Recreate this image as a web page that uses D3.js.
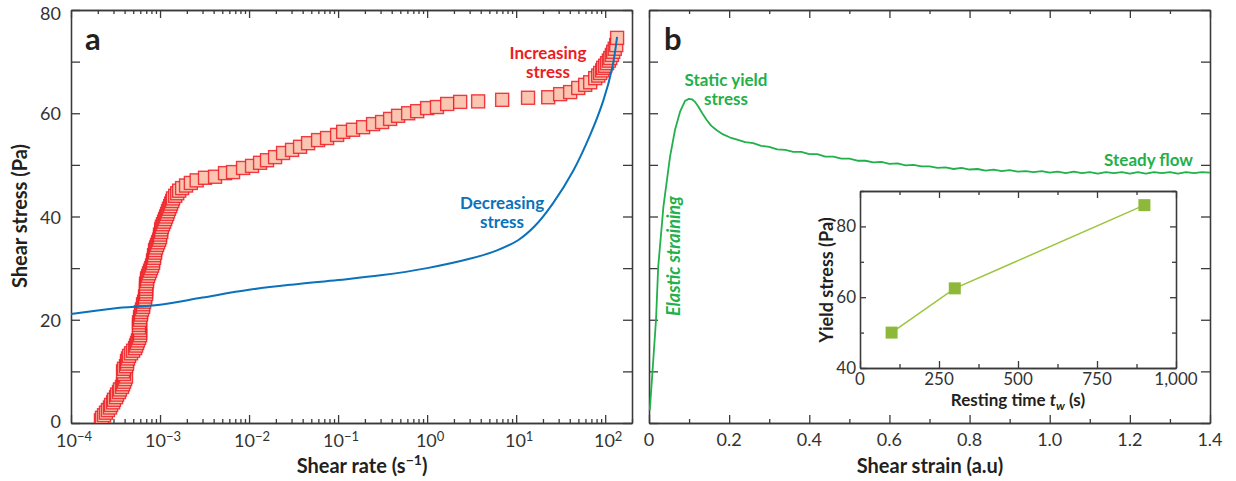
<!DOCTYPE html>
<html>
<head>
<meta charset="utf-8">
<script src="https://cdn.jsdelivr.net/npm/d3@7"></script>
<style>
body { margin: 0; background: #fff; }
text { font-family: Lato, "Open Sans", sans-serif; }
</style>
</head>
<body>
<script>
// ---- panel a : increasing stress (squares) ----
const upRate = [
  2.17e-4, 2.23e-4, 2.35e-4, 2.47e-4, 2.60e-4, 2.74e-4, 2.82e-4, 2.97e-4, 3.04e-4, 3.21e-4,
  3.29e-4, 3.46e-4, 3.55e-4, 3.74e-4, 3.84e-4, 3.94e-4, 4.05e-4, 4.15e-4, 3.94e-4, 3.84e-4,
  3.94e-4, 4.15e-4, 4.26e-4, 4.26e-4, 4.37e-4, 4.49e-4, 4.73e-4, 4.98e-4, 5.24e-4, 5.38e-4,
  5.52e-4, 5.66e-4, 5.81e-4, 5.97e-4, 5.97e-4, 5.97e-4, 5.81e-4, 5.81e-4, 5.81e-4, 5.97e-4,
  5.97e-4, 6.12e-4, 6.12e-4, 6.28e-4, 6.45e-4, 6.45e-4, 6.62e-4, 6.79e-4, 6.79e-4, 6.97e-4,
  6.97e-4, 6.97e-4, 6.97e-4, 6.97e-4, 7.15e-4, 7.15e-4, 7.34e-4, 7.53e-4, 7.73e-4, 7.93e-4,
  8.14e-4, 8.35e-4, 8.35e-4, 8.57e-4, 8.57e-4, 8.80e-4, 8.80e-4, 9.03e-4, 9.26e-4, 9.51e-4,
  9.76e-4, 1.00e-3, 1.00e-3, 1.03e-3, 1.03e-3, 1.05e-3, 1.08e-3, 1.11e-3, 1.14e-3, 1.17e-3,
  1.20e-3, 1.23e-3, 1.26e-3, 1.30e-3, 1.33e-3, 1.37e-3, 1.40e-3, 1.48e-3, 1.56e-3, 1.64e-3,
  1.77e-3, 1.96e-3, 2.22e-3, 2.58e-3, 3.20e-3, 4.15e-3, 5.37e-3, 6.61e-3, 8.56e-3, 1.08e-2,
  1.33e-2, 1.59e-2, 1.96e-2, 2.41e-2, 3.04e-2, 3.74e-2, 4.60e-2, 5.96e-2, 7.52e-2, 9.75e-2,
  0.114, 0.147, 0.191, 0.247, 0.312, 0.384, 0.472, 0.612, 0.773, 1.00,
  1.29, 1.68, 2.35, 3.74, 6.96, 13.6, 22.9, 31.2, 40.4, 49.8,
  59.6, 67.8, 77.2, 83.5, 87.9, 92.6, 95.0, 100, 105, 110,
  114, 119, 123, 128, 133, 136
];
const upStress = [
  0.5, 1.0, 1.5, 2.0, 2.5, 3.0, 3.5, 4.0, 4.5, 5.0,
  5.5, 6.0, 6.5, 7.0, 7.5, 8.0, 8.5, 9.0, 9.5, 10.0,
  10.5, 11.0, 11.5, 12.0, 12.5, 13.0, 13.5, 14.0, 14.5, 15.0,
  15.5, 16.0, 16.5, 17.0, 17.5, 18.0, 18.5, 19.0, 19.5, 20.0,
  20.5, 21.0, 21.5, 22.0, 22.5, 23.0, 23.5, 24.0, 24.5, 25.0,
  25.5, 26.0, 26.5, 27.0, 27.5, 28.0, 28.5, 29.0, 29.5, 30.0,
  30.5, 31.0, 31.5, 32.0, 32.5, 33.0, 33.5, 34.0, 34.5, 35.0,
  35.5, 36.0, 36.5, 37.0, 37.5, 38.0, 38.5, 39.0, 39.5, 40.0,
  40.5, 41.0, 41.5, 42.0, 42.5, 43.0, 43.5, 44.0, 44.5, 45.0,
  45.5, 46.0, 46.5, 47.0, 47.5, 47.7, 48.4, 48.6, 49.4, 49.8,
  50.4, 50.9, 51.5, 52.3, 52.9, 53.5, 54.2, 54.8, 55.2, 55.8,
  56.4, 56.8, 57.3, 57.9, 58.3, 58.9, 59.5, 60.0, 60.4, 61.0,
  61.2, 61.8, 62.2, 62.3, 62.6, 63.0, 63.1, 63.7, 64.1, 64.9,
  65.5, 66.0, 66.8, 67.3, 67.8, 68.3, 68.8, 69.2, 69.7, 70.2,
  70.7, 71.3, 71.9, 72.5, 73.2, 74.6
];

// ---- panel a : decreasing stress (line) ----
const downRate = [1e-4, 3e-4, 1e-3, 3e-3, 1e-2, 3e-2, 0.1, 0.3, 1, 3, 6, 10.5, 16.3, 26, 43.6, 67.8, 95, 120, 136];
const downStress = [21.1, 22.2, 22.9, 24.3, 25.8, 26.8, 27.7, 28.6, 30.0, 31.8, 33.4, 35.4, 38.2, 42.6, 48.8, 55.8, 62.4, 68.8, 74.8];

// ---- panel b : stress vs strain ----
const strain = [
  0.002, 0.009, 0.0175, 0.023, 0.036, 0.0525, 0.065, 0.0775, 0.09, 0.1,
  0.107, 0.115, 0.123, 0.133, 0.144, 0.155, 0.169, 0.185, 0.2025, 0.22,
  0.24, 0.26, 0.28, 0.30, 0.32, 0.34, 0.36, 0.38, 0.40, 0.42,
  0.44, 0.46, 0.48, 0.50, 0.52, 0.54, 0.56, 0.58, 0.60, 0.62,
  0.64, 0.66, 0.68, 0.70, 0.72, 0.74, 0.76, 0.78, 0.80, 0.82,
  0.84, 0.86, 0.88, 0.90, 0.92, 0.94, 0.96, 0.98, 1.00, 1.02,
  1.04, 1.06, 1.08, 1.10, 1.12, 1.14, 1.16, 1.18, 1.20, 1.22,
  1.24, 1.26, 1.28, 1.30, 1.32, 1.34, 1.36, 1.38, 1.40
];
const strainStress = [
  2.5, 10.3, 20.0, 30.3, 41.9, 51.6, 56.8, 60.3, 62.4, 62.8,
  62.7, 62.2, 61.3, 60.0, 58.7, 57.6, 56.7, 55.9, 55.3, 54.9,
  54.4, 54.2, 53.7, 53.5, 53.0, 52.9, 52.5, 52.5, 52.1, 52.1,
  51.6, 51.6, 51.2, 51.2, 50.8, 50.8, 50.5, 50.6, 50.2, 50.3,
  49.9, 50.0, 49.7, 49.7, 49.4, 49.5, 49.2, 49.4, 49.1, 49.2,
  48.9, 49.1, 48.8, 49.0, 48.7, 48.8, 48.6, 48.8, 48.5, 48.7,
  48.4, 48.7, 48.4, 48.6, 48.3, 48.6, 48.4, 48.6, 48.3, 48.6,
  48.3, 48.6, 48.4, 48.6, 48.3, 48.6, 48.4, 48.6, 48.5
];

// ---- inset : yield stress vs resting time ----
const restTime = [100, 300, 900];
const yieldStress = [50, 62.5, 86];

// ---- tick labels ----
const rateDecades = [1e-4, 1e-3, 1e-2, 1e-1, 1, 10, 100];
const rateExp = ["\u22124", "\u22123", "\u22122", "\u22121", "0", "1", "2"];
const stressLabels = [0, 20, 40, 60, 80];
const strainLabels = [0, 0.2, 0.4, 0.6, 0.8, 1.0, 1.2, 1.4];
const restLabels = [0, 250, 500, 750, 1000];
const yieldLabels = [40, 60, 80];

const axisColor = '#3a3a3a';
const labelColor = '#333';
const titleColor = '#231f20';
const red = '#ed1c24';
const blue = '#0a72ba';
const green = '#22b04b';
const olive = '#8db83a';

var svg = d3.select('body').append('svg')
  .attr('width', 1236)
  .attr('height', 481)
  .style('background-color', 'white');

var xA = d3.scaleLog().domain([1e-4, 200]).range([71, 632]);
var yA = d3.scaleLinear().domain([0, 80]).range([423, 10]);
var xB = d3.scaleLinear().domain([0, 1.4]).range([649, 1210]);
var yB = d3.scaleLinear().domain([0, 80]).range([423, 10]);
var xI = d3.scaleLinear().domain([0, 1000]).range([860, 1176]);
var yI = d3.scaleLinear().domain([40, 90]).range([368, 191]);

function styleAxis(g) {
  g.selectAll('path, line').attr('stroke', axisColor).attr('stroke-width', 1.3);
  g.selectAll('text').remove();
}

function addAxis(axis, tx, ty) {
  svg.append('g')
    .attr('transform', `translate(${tx},${ty})`)
    .call(axis.tickSizeOuter(0).tickFormat(''))
    .call(styleAxis);
}

// frame: major+minor ticks on four sides
function drawFrame(x, y, xMajor, xMinor, yMajor, yMinor, sz) {
  const [x0, x1] = x.range();
  const [y1, y0] = y.range();
  addAxis(d3.axisBottom(x).tickValues(xMajor).tickSize(-sz.xMaj), 0, y1);
  addAxis(d3.axisBottom(x).tickValues(xMinor).tickSize(-sz.xMin), 0, y1);
  addAxis(d3.axisTop(x).tickValues(xMajor).tickSize(-sz.xMaj), 0, y0);
  addAxis(d3.axisTop(x).tickValues(xMinor).tickSize(-sz.xMin), 0, y0);
  addAxis(d3.axisLeft(y).tickValues(yMajor).tickSize(-sz.yMaj), x0, 0);
  addAxis(d3.axisLeft(y).tickValues(yMinor).tickSize(-sz.yMin), x0, 0);
  addAxis(d3.axisRight(y).tickValues(yMajor).tickSize(-sz.yMaj), x1, 0);
  addAxis(d3.axisRight(y).tickValues(yMinor).tickSize(-sz.yMin), x1, 0);
}

function drawPanelA() {
  const minor = xA.ticks().filter(d => !rateDecades.some(v => Math.abs(v - d) / v < 1e-6));
  drawFrame(xA, yA, rateDecades, minor, d3.range(0, 81, 10), [], { xMaj: 8, xMin: 4, yMaj: 9, yMin: 4 });

  // tick labels
  const xl = svg.append('g').attr('fill', labelColor).attr('font-size', 18);
  rateDecades.forEach((d, i) => {
    const t = xl.append('text').attr('x', xA(d) + 3).attr('y', 447).attr('text-anchor', 'middle');
    t.append('tspan').text('10');
    t.append('tspan').attr('dy', -6).attr('font-size', 13).text(rateExp[i]);
  });
  svg.append('g').selectAll('text').data(stressLabels).join('text')
    .attr('x', 61).attr('y', d => Math.max(yA(d) + (d === 0 ? 5 : 7), 20))
    .attr('text-anchor', 'end').attr('font-size', 18).attr('fill', labelColor)
    .text(d => d);

  // increasing stress squares
  const clip = svg.append('clipPath').attr('id', 'clipA');
  clip.append('rect').attr('x', 71).attr('y', 10).attr('width', 561).attr('height', 413);
  const s = 13;
  svg.append('g').attr('clip-path', 'url(#clipA)')
    .selectAll('rect').data(d3.range(upRate.length)).join('rect')
    .attr('x', i => xA(upRate[i]) - s / 2)
    .attr('y', i => yA(upStress[i]) - s / 2)
    .attr('width', s).attr('height', s)
    .attr('fill', '#fac6b2')
    .attr('stroke', red)
    .attr('stroke-opacity', 0.85)
    .attr('stroke-width', 1.4);

  // decreasing stress line
  const line = d3.line()
    .x(i => xA(downRate[i]))
    .y(i => yA(downStress[i]))
    .curve(d3.curveCatmullRom.alpha(0.5));
  svg.append('path')
    .datum(d3.range(downRate.length))
    .attr('d', line)
    .attr('fill', 'none')
    .attr('stroke', blue)
    .attr('stroke-width', 2);

  // annotations
  const ann = (txt, x, y, color) => svg.append('text')
    .attr('x', x).attr('y', y).attr('text-anchor', 'middle')
    .attr('font-size', 17).attr('font-weight', 700).attr('fill', color).text(txt);
  ann('Increasing', 548, 59, red);
  ann('stress', 548, 78, red);
  ann('Decreasing', 502, 209, blue);
  ann('stress', 502, 228, blue);

  svg.append('text').attr('x', 85).attr('y', 50)
    .attr('font-size', 31).attr('font-weight', 700).attr('fill', titleColor).text('a');

  // axis titles
  const xt = svg.append('text').attr('x', 362).attr('y', 473).attr('text-anchor', 'middle')
    .attr('font-size', 20).attr('font-weight', 700).attr('fill', titleColor);
  xt.append('tspan').text('Shear rate (s');
  xt.append('tspan').attr('dy', -8).attr('font-size', 14).text('\u22121');
  xt.append('tspan').attr('dy', 8).text(')');

  svg.append('text')
    .attr('transform', 'translate(27,216) rotate(-90)')
    .attr('text-anchor', 'middle')
    .attr('font-size', 20).attr('font-weight', 700).attr('fill', titleColor)
    .text('Shear stress (Pa)');
}

function drawPanelB() {
  drawFrame(xB, yB, strainLabels, d3.range(0.1, 1.4, 0.2), d3.range(0, 81, 10), [], { xMaj: 8, xMin: 4, yMaj: 9, yMin: 4 });

  svg.append('g').selectAll('text').data(strainLabels).join('text')
    .attr('x', d => xB(d)).attr('y', 446)
    .attr('text-anchor', 'middle').attr('font-size', 18).attr('fill', labelColor)
    .text((d, i) => i === 0 ? '0' : d.toFixed(1));

  const line = d3.line()
    .x(i => xB(strain[i]))
    .y(i => yB(strainStress[i]))
    .curve(d3.curveLinear);
  svg.append('path')
    .datum(d3.range(strain.length))
    .attr('d', line)
    .attr('fill', 'none')
    .attr('stroke', green)
    .attr('stroke-width', 1.8)
    .attr('stroke-linejoin', 'round');

  const ann = (txt, x, y, anchor) => svg.append('text')
    .attr('x', x).attr('y', y).attr('text-anchor', anchor)
    .attr('font-size', 17).attr('font-weight', 700).attr('fill', green).text(txt);
  ann('Static yield', 726, 86, 'middle');
  ann('stress', 726, 105, 'middle');
  ann('Steady flow', 1193, 166, 'end');

  svg.append('text')
    .attr('transform', 'translate(680,256) rotate(-90)')
    .attr('text-anchor', 'middle')
    .attr('font-size', 18).attr('font-weight', 700).attr('font-style', 'italic')
    .attr('fill', green).text('Elastic straining');

  svg.append('text').attr('x', 664).attr('y', 50)
    .attr('font-size', 31).attr('font-weight', 700).attr('fill', titleColor).text('b');

  svg.append('text').attr('x', 930).attr('y', 473).attr('text-anchor', 'middle')
    .attr('font-size', 20).attr('font-weight', 700).attr('fill', titleColor)
    .text('Shear strain (a.u)');
}

function drawInset() {
  svg.append('rect').attr('x', 860).attr('y', 191).attr('width', 316).attr('height', 177).attr('fill', 'white');
  drawFrame(xI, yI, restLabels, [125, 375, 625, 875], yieldLabels, [50, 70, 90], { xMaj: 7, xMin: 4, yMaj: 6, yMin: 4 });

  svg.append('g').selectAll('text').data(restLabels).join('text')
    .attr('x', d => xI(d)).attr('y', 385)
    .attr('text-anchor', 'middle').attr('font-size', 17).attr('fill', labelColor)
    .text(d => d3.format(',')(d));
  svg.append('g').selectAll('text').data(yieldLabels).join('text')
    .attr('x', 856).attr('y', d => yI(d) + 6)
    .attr('text-anchor', 'end').attr('font-size', 17).attr('fill', labelColor)
    .text(d => d);

  const line = d3.line().x(i => xI(restTime[i])).y(i => yI(yieldStress[i]));
  svg.append('path')
    .datum(d3.range(restTime.length))
    .attr('d', line)
    .attr('fill', 'none')
    .attr('stroke', '#9cc43e')
    .attr('stroke-width', 1.5);
  svg.append('g').selectAll('rect').data(d3.range(restTime.length)).join('rect')
    .attr('x', i => xI(restTime[i]) - 6)
    .attr('y', i => yI(yieldStress[i]) - 6)
    .attr('width', 12).attr('height', 12)
    .attr('fill', olive);

  const xt = svg.append('text').attr('x', 1018).attr('y', 406).attr('text-anchor', 'middle')
    .attr('font-size', 17).attr('font-weight', 700).attr('fill', titleColor);
  xt.append('tspan').text('Resting time ');
  xt.append('tspan').attr('font-style', 'italic').text('t');
  xt.append('tspan').attr('font-style', 'italic').attr('font-size', 12).attr('dy', 4).text('w');
  xt.append('tspan').attr('dy', -4).text(' (s)');

  svg.append('text')
    .attr('transform', 'translate(833,280) rotate(-90)')
    .attr('text-anchor', 'middle')
    .attr('font-size', 18).attr('font-weight', 700).attr('fill', titleColor)
    .text('Yield stress (Pa)');
}

drawPanelA();
drawPanelB();
drawInset();
</script>
</body>
</html>
